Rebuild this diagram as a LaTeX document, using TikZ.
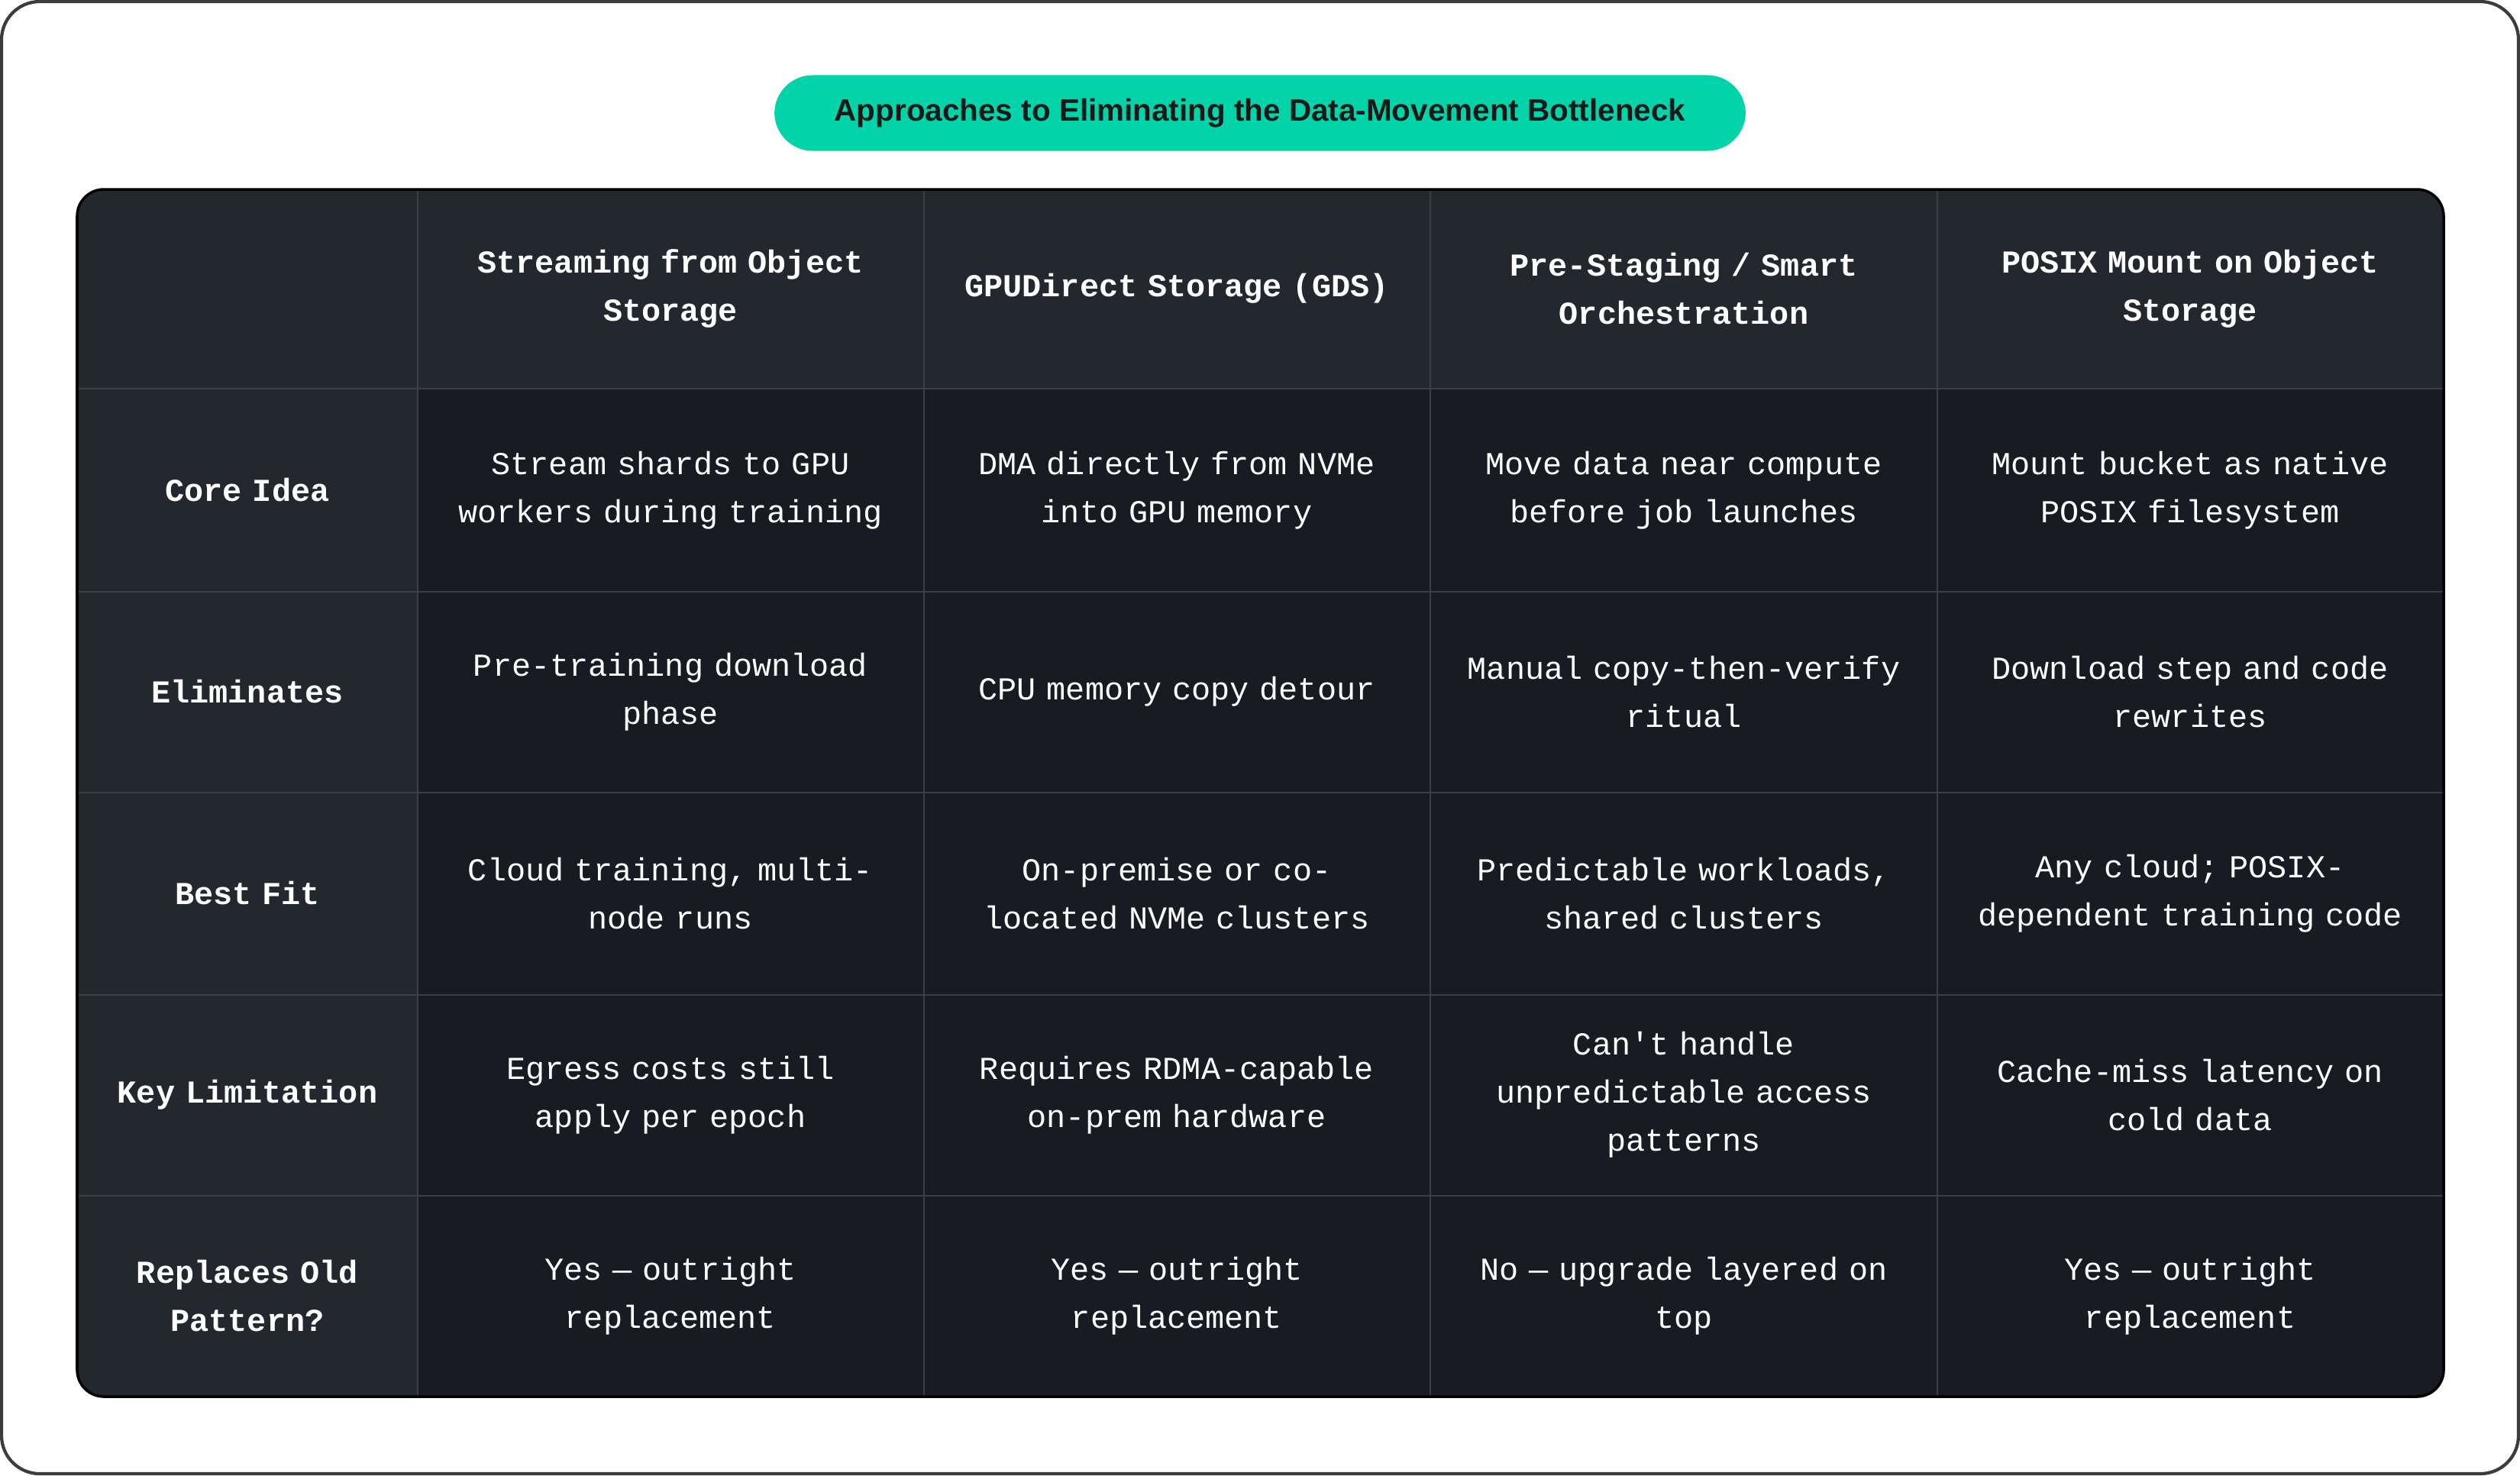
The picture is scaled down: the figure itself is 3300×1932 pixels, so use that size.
\documentclass[tikz,border=0pt]{standalone}
\usepackage{fontspec}
\setmainfont{Liberation Sans}
\setmonofont{Liberation Mono}
\definecolor{hdr}{HTML}{23272E}
\definecolor{body}{HTML}{181B21}
\definecolor{grid}{HTML}{3A3F47}
\definecolor{pill}{HTML}{03D3A9}
\definecolor{frame}{HTML}{3C3C3C}
\begin{document}
\begin{tikzpicture}[x=0.01cm,y=-0.01cm,
  cell/.style={text=white,align=center,font=\fontsize{11.9}{17.9}\selectfont\ttfamily,text width=6.2cm},
  bcell/.style={cell,font=\fontsize{11.9}{17.9}\selectfont\ttfamily\bfseries}]
\useasboundingbox (0,0) rectangle (3300,1932);
\draw[frame,line width=1.2pt,fill=white,rounded corners=0.5cm] (2,2) rectangle (3298,1930);
\node[fill=pill,rounded corners=0.5cm,minimum width=12.71cm,minimum height=0.99cm,inner sep=0pt,
  font=\fontsize{11.5}{14}\selectfont\bfseries,text=black!90] (title) at (1650,148) {Approaches to Eliminating the Data-Movement Bottleneck};
\begin{scope}
\clip[rounded corners=0.35cm] (101,248) rectangle (3200,1829);
\fill[body] (101,248) rectangle (3200,1829);
\fill[hdr] (101,248) rectangle (3200,509);
\fill[hdr] (101,248) rectangle (547,1829);
\foreach \x in {547,1210,1873,2537} \draw[grid,line width=0.8pt] (\x,248) -- (\x,1829);
\foreach \y in {509,775,1038,1303,1566} \draw[grid,line width=0.8pt] (101,\y) -- (3200,\y);
\end{scope}
\draw[black,line width=1pt,rounded corners=0.35cm] (101,248) rectangle (3200,1829);
% column centers: 324, 878, 1541, 2205, 2868 ; row centers: 378, 642, 906, 1170, 1434, 1697
\node[bcell] (h1) at (878,378) {Streaming from Object\\Storage};
\node[bcell] (h2) at (1541,378) {GPUDirect Storage (GDS)};
\node[bcell] (h3) at (2205,378) {Pre-Staging / Smart\\Orchestration};
\node[bcell] (h4) at (2868,378) {POSIX Mount on Object\\Storage};
\node[bcell] (r1) at (324,642) {Core Idea};
\node[bcell] (r2) at (324,906) {Eliminates};
\node[bcell] (r3) at (324,1170) {Best Fit};
\node[bcell] (r4) at (324,1434) {Key Limitation};
\node[bcell] (r5) at (324,1697) {Replaces Old\\Pattern?};
\node[cell] (c11) at (878,642) {Stream shards to GPU\\workers during training};
\node[cell] (c12) at (1541,642) {DMA directly from NVMe\\into GPU memory};
\node[cell] (c13) at (2205,642) {Move data near compute\\before job launches};
\node[cell] (c14) at (2868,642) {Mount bucket as native\\POSIX filesystem};
\node[cell] (c21) at (878,906) {Pre-training download\\phase};
\node[cell] (c22) at (1541,906) {CPU memory copy detour};
\node[cell] (c23) at (2205,906) {Manual copy-then-verify\\ritual};
\node[cell] (c24) at (2868,906) {Download step and code\\rewrites};
\node[cell] (c31) at (878,1170) {Cloud training, multi-\\node runs};
\node[cell] (c32) at (1541,1170) {On-premise or co-\\located NVMe clusters};
\node[cell] (c33) at (2205,1170) {Predictable workloads,\\shared clusters};
\node[cell] (c34) at (2868,1170) {Any cloud; POSIX-\\dependent training code};
\node[cell] (c41) at (878,1434) {Egress costs still\\apply per epoch};
\node[cell] (c42) at (1541,1434) {Requires RDMA-capable\\on-prem hardware};
\node[cell] (c43) at (2205,1434) {Can't handle\\unpredictable access\\patterns};
\node[cell] (c44) at (2868,1434) {Cache-miss latency on\\cold data};
\node[cell] (c51) at (878,1697) {Yes — outright\\replacement};
\node[cell] (c52) at (1541,1697) {Yes — outright\\replacement};
\node[cell] (c53) at (2205,1697) {No — upgrade layered on\\top};
\node[cell] (c54) at (2868,1697) {Yes — outright\\replacement};
\end{tikzpicture}
\end{document}
